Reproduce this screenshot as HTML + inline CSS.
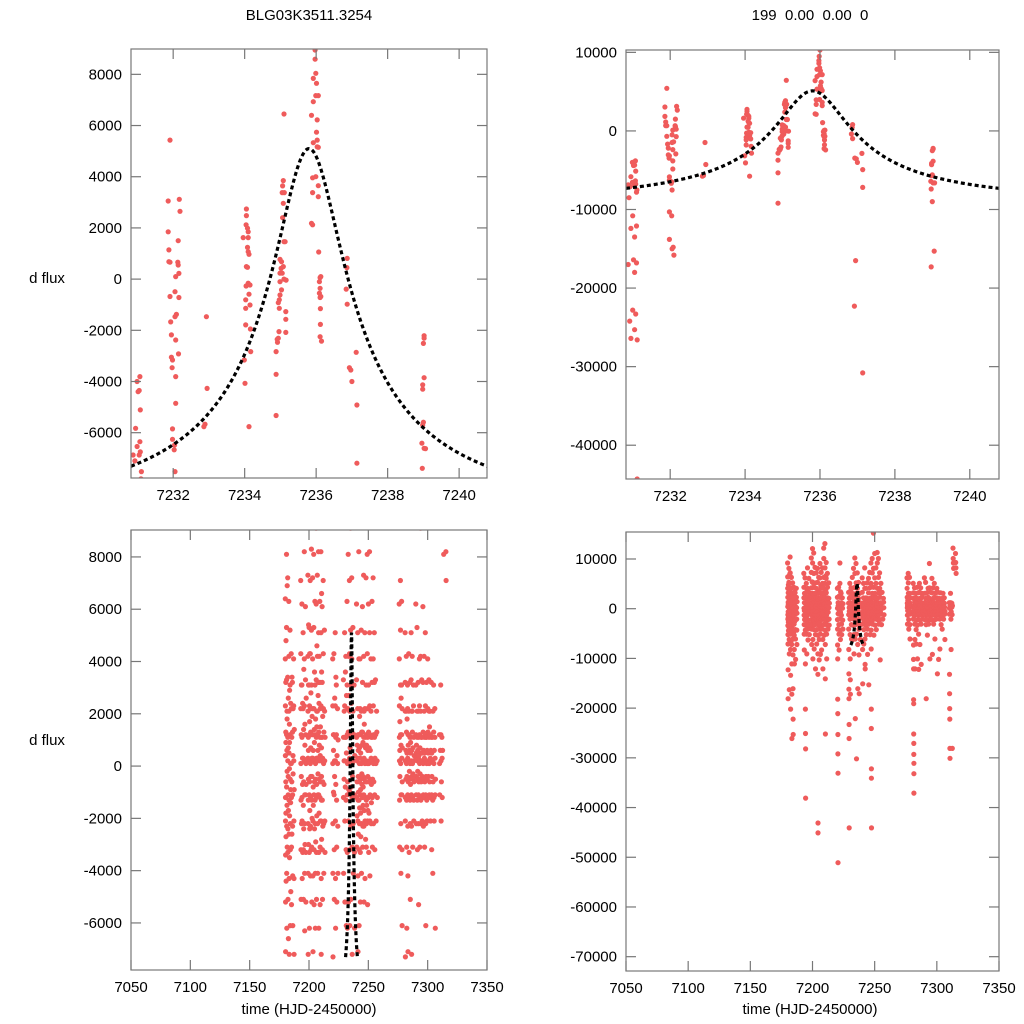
<!DOCTYPE html>
<html><head><meta charset="utf-8"><style>
html,body{margin:0;padding:0;background:#fff;overflow:hidden;}
svg{display:block;font-family:"Liberation Sans",Arial,sans-serif;}
</style></head><body>
<svg id="chart" width="1024" height="1024" viewBox="0 0 1024 1024">
<text x="309" y="20" text-anchor="middle" font-size="15">BLG03K3511.3254</text>
<text x="810" y="20" text-anchor="middle" font-size="15" xml:space="preserve">199  0.00  0.00  0</text>
<text x="47" y="283" text-anchor="middle" font-size="15">d flux</text>
<text x="47" y="745" text-anchor="middle" font-size="15">d flux</text>
<text x="309" y="1014" text-anchor="middle" font-size="15">time (HJD-2450000)</text>
<text x="810" y="1014" text-anchor="middle" font-size="15">time (HJD-2450000)</text>
</svg>
<script>
// ---- zoomed (peak) data: time and flux ----
const peakTime = [
7230.88,7230.95,7230.99,7231.02,7231.05,7231.07,7231.08,7231.07,7231.05,7231.08,7230.99,7231.11,
7230.9,7230.95,7231.0,7231.05,7231.1,7230.88,7231.02,7231.1,7231.05,7230.92,7231.0,7231.08,7230.95,7231.05,7231.12,7231.12,7231.1,7230.93,
7231.91,7231.86,7231.86,7231.88,7231.88,7231.91,7231.91,7231.93,7231.95,7231.95,7231.98,7231.97,7231.98,7231.98,7232.04,7232.05,7232.03,7232.05,7232.07,7232.07,7232.07,7232.07,7232.09,7232.05,7232.14,7232.13,7232.14,7232.16,7232.16,7232.17,7232.19,7232.15,
7231.98,7232.04,7231.98,7232.08,7232.05,7232.1,
7232.93,7232.95,7232.86,7232.89,
7234.05,7234.05,7234.04,7234.08,7234.10,7233.96,7234.10,7234.08,7234.10,7234.12,7234.05,7234.08,7234.04,7234.10,7234.15,7234.12,7234.03,7234.15,7234.03,7234.16,7234.03,7234.17,7233.99,7234.01,7234.12,
7235.10,7235.08,7235.06,7235.05,7235.11,7235.08,7235.06,7235.10,7235.13,7234.99,7235.03,7235.02,7234.99,7235.05,7235.08,7234.99,7235.10,7235.16,7235.03,7234.99,7234.97,7234.94,7234.97,7235.15,7235.15,7235.15,7234.96,7234.91,7234.92,7234.88,7234.88,7234.88,7234.94,7234.88,
7235.97,7235.97,7235.99,7235.92,7236.01,7235.99,7236.06,7235.92,7235.87,7236.03,7236.01,7236.03,7235.92,7236.03,7236.06,7235.90,7235.99,7236.06,7235.90,7236.06,7235.87,7235.90,7236.07,7236.11,7236.13,7236.09,7236.11,7236.09,7236.11,7236.13,7236.12,7236.12,7236.11,7236.15,7236.0,7235.98,
7236.87,7236.86,7236.84,7236.87,7237.12,7236.93,7236.97,7237.0,7237.14,7237.14,7236.95,7236.92,7237.14,
7239.02,7239.02,7239.0,7239.02,7238.98,7238.98,7239.0,7238.96,7239.02,7239.06,7238.97,7238.97,7239.05,7239.0,7238.98
];
const peakFlux = [
-6870,-5830,-4000,-4400,-4350,-3810,-5110,-6350,-6870,-6750,-6540,-7520,
-8500,-12400,-10800,-13500,-12100,-17000,-16400,-16800,-18000,-24200,-22800,-23300,-26400,-25300,-26600,-44300,-7800,-7100,
5430,3050,1850,1140,680,660,-680,-1670,-2180,-3050,-3160,-3460,-5850,-6260,-6480,-7520,-6670,-490,100,-3810,-2380,-4850,-1380,-1470,1500,660,550,225,-720,3120,2650,-2920,
-10300,-10800,-13800,-14800,-15000,-15800,
-1470,-4270,-5760,-5670,
2740,2480,2120,1990,1850,1620,1620,1240,1070,970,490,460,-270,-160,-230,-590,-810,-1010,-1140,-1950,-1790,-2830,-3160,-4070,-5760,
6450,3850,3640,3380,3380,2960,2400,1460,1460,770,680,420,230,230,490,-100,0,-40,-420,-620,-810,-920,-1140,-1270,-1570,-2080,-2050,-2350,-2470,-2830,-3720,-5330,-2310,-9200,
8950,8590,8040,7840,7650,7170,7170,6930,6400,6220,5740,5430,5330,5170,5150,3960,4000,3650,3380,3220,2180,2120,1060,60,100,-100,-360,-550,-720,-680,-1150,-1770,-2250,-2420,10300,9500,
810,450,-390,-980,-2860,-3460,-3550,-4000,-4920,-7190,-16500,-22300,-30800,
-2210,-2310,-2510,-3850,-4130,-4300,-5590,-6410,-6610,-6620,-7390,-17300,-15300,-9000,-5700
];

// ---- full season data: night (HJD-2450000) and flux values in thousands ----
const seasonNights = [7180,7181,7182,7183,7184,7185,7186,7187,7193,7194,7195,7196,7197,7199,7200,7201,7202,7203,7204,7205,7206,7207,7208,7209,7210,7211,7212,7213,7220,7221,7222,7223,7224,7229,7230,7231,7232,7233,7234,7235,7236,7237,7238,7240,7241,7242,7243,7244,7245,7246,7247,7248,7249,7250,7251,7252,7253,7254,7255,7256,7257,7276,7277,7278,7281,7282,7283,7284,7285,7286,7287,7288,7290,7291,7292,7293,7294,7295,7296,7297,7298,7299,7300,7301,7302,7303,7304,7305,7306,7310,7311,7312,7313,7315];
const seasonFluxK = [
[9.2,6.4,4.1,2.3,0.4,-1.2,-2.1,-3.4,-5.2,-7.1,-12.3,-18.1,1.3,-0.6,3.2,-1.8,0.9,-2.7,4.8,-4.4],
[8.1,5.3,3.3,1.2,-0.8,-2.3,-4.1,-6.2,-9.1,-16.3,0.6,2.1,-1.5,-0.2,1.8,-3.1,6.9],
[10.4,7.2,3.4,1.1,0.2,-2.4,-3.3,-5.1,-8.2,-13.4,-20.2,-1.1,-0.4,0.7,2.6,-1.7,-6.6],
[6.3,4.2,2.1,0.5,-1.3,-2.6,-4.3,-7.2,-11.1,-17.2,-26.1,1.6,-0.1,0.9,-3.5,2.9,-1.9],
[5.2,3.1,1.2,-0.5,-2.2,-3.2,-6.1,-9.3,-16.1,-22.2,-25.3,0.1,-1.4,2.4,-0.9,-4.8],
[4.3,2.2,0.1,-1.2,-3.1,-5.3,-8.2,-11.1,1.1,-0.6,-2.6,3.4],
[3.2,1.3,-1.1,-2.3,-4.2,-6.1,-10.2,0.4,-0.3,2.2],
[4.1,2.3,0.2,-2.1,-4.3,-7.2,-0.9,1.4],
[7.1,4.3,2.2,0.1,-1.3,-3.2,-5.1,-8.3,1.2,-0.4,3.1,-2.2],
[6.2,3.1,1.1,-1.2,-2.1,-4.3,-11.1,-20.2,-25.1,-28.2,-38.1,0.3,-0.7,2.4,-3.3],
[5.1,2.2,0.3,-1.5,-3.2,-5.1,-9.1,1.4,-0.6,-2.4,3.7],
[8.2,4.1,2.3,0.2,-2.2,-4.1,-6.3,-1.1,0.8,1.6,-3.0],
[6.1,3.3,1.2,-1.1,-3.3,-5.2,0.1,-0.7,2.6],
[10.2,7.3,4.2,2.1,0.3,-2.2,-4.1,-7.2,1.1,-1.3,0.6,-0.5,3.1,-3.0,5.4],
[12.1,9.2,5.3,3.1,1.2,-1.1,-3.3,-6.2,-10.1,0.2,2.3,-0.6,1.7,-2.4,4.3,-1.7],
[11.2,7.1,4.3,2.2,0.1,-2.3,-4.2,-8.1,1.3,-1.2,0.7,-0.4,2.8,-3.2],
[8.3,5.2,3.1,1.2,-1.3,-3.1,-5.2,-12.1,0.3,-0.4,1.9,-2.0],
[7.2,4.1,2.2,0.3,-2.1,-4.2,-7.1,1.2,-0.8,0.6,-1.5],
[8.1,5.3,2.2,0.2,-1.1,-3.2,-5.3,-9.1,-13.2,-43.1,-45.1,1.4,-0.6,0.9,-2.4,3.6],
[6.3,3.1,1.2,-1.3,-2.2,-4.1,-6.2,-10.3,0.1,-0.5,1.8,-2.9],
[9.1,6.2,3.3,1.1,-1.2,-3.3,-5.1,-9.2,0.3,2.1,-0.7,1.5,-1.9,4.6],
[7.3,4.2,2.1,0.3,-2.2,-4.1,-8.3,1.2,-1.1,0.6,-0.3,2.7],
[8.2,5.1,3.2,1.3,-1.1,-3.3,-6.2,-12.1,0.2,2.4,-0.5,-1.8,4.2,0.8],
[12.2,10.1,6.3,3.2,1.1,-1.2,-3.1,-5.3,0.4,-0.6,2.2,-2.1,1.5],
[13.1,8.2,5.1,2.3,0.2,-2.1,-4.3,-7.2,-14.1,-25.2,1.1,-1.3,0.7,-0.4,3.6,-2.8,6.6],
[9.3,6.1,3.2,1.1,-1.3,-3.2,-5.1,-10.1,0.3,-0.6,1.9,-2.3],
[7.1,4.3,2.2,0.1,-2.2,-4.1,1.3,-0.7],
[5.2,2.1,0.2,-2.1,-3.3,1.1],
[4.1,2.3,0.1,-2.2,-4.1,-7.3,-10.1,-18.2,-21.1,-25.3,-29.2,-33.1,-51.1,1.2,-1.0,0.6],
[4.3,1.2,-1.1,-3.2,-5.1,-8.3,0.2,-0.4,2.6],
[9.2,5.1,2.3,0.2,-2.1,-4.3,-6.2,1.1,-0.7,3.4],
[3.1,1.2,-1.3,-3.1,-5.2,0.4],
[2.2,0.1,-2.3,-4.1,1.0],
[3.3,1.1,-1.2,-4.1,-8.2,-13.1,-16.2,-18.1,-23.3,-26.1,-44.1,0.2,-0.5,2.1],
[5.1,2.3,0.2,-2.1,-5.2,-10.1,-14.3,-17.2,1.1,-0.8,3.6],
[4.2,1.1,-1.3,-3.2,-6.1,0.5,2.7],
[6.3,3.1,1.2,-1.1,-3.3,-6.2,0.1,-0.6,2.2],
[8.1,4.2,1.3,-2.1,-5.2,-9.1,0.2,-0.9,2.7],
[10.2,7.1,4.3,2.1,0.3,-3.2,-6.1,-22.1,1.2,-1.0,0.7],
[9.1,5.2,3.1,0.2,-2.3,-5.1,-30.2,1.1,-0.8,2.4],
[7.2,4.1,1.3,-1.2,-3.1,-7.2,-16.1,0.1,-0.4],
[5.3,2.1,0.2,-2.2,-4.1,-9.3,-17.1,1.2],
[3.1,1.2,-1.1,-3.3,-6.2,0.4],
[6.2,3.3,1.1,-1.2,-3.1,-8.2,-15.1,0.2,-0.6,-1.9,0.8],
[5.1,2.2,0.3,-2.1,-4.2,-7.1,-1.3,1.2,-0.4,-2.6,0.6,-1.0],
[8.2,4.1,1.2,-1.3,-3.2,-6.1,-11.2,-12.1,0.1,-2.2,-0.6,0.7,-1.6,1.9],
[4.1,2.2,0.3,-1.1,-3.3,-5.2,1.2,-0.5,-0.9,-1.8,0.5,-2.7],
[5.2,2.1,0.1,-2.2,-4.1,-9.2,-1.1,1.3,-0.3,-1.6,0.8,-0.7],
[6.1,3.2,1.3,-1.2,-3.1,-15.3,0.2,-2.3,-0.4,0.9,-1.5,-0.8],
[7.3,4.2,1.1,-1.1,-2.3,-5.2,0.3,2.1,-0.5,-1.7,1.6],
[9.2,5.1,2.2,0.1,-2.1,-4.3,-8.1,-20.2,-24.1,-32.2,-34.1,-44.1,1.1,-1.2,-0.6,0.7,-2.8],
[10.1,7.2,3.1,1.2,-1.3,-3.1,0.2,-2.2,-0.6,0.8,-1.5],
[15.2,8.1,4.3,2.2,0.1,-2.1,-5.3,1.1,-1.2,-0.4,0.6,-1.7],
[11.1,6.2,3.1,1.3,-1.2,-3.3,0.1,2.2,-0.6,-1.8,0.7],
[8.2,5.1,2.3,0.2,-2.1,-4.2,1.2,-1.1,-0.5,0.6],
[11.3,9.2,4.1,2.1,0.3,-2.2,1.1,-0.7,-1.4],
[10.1,6.3,3.2,1.1,-1.2,-3.1,0.2,-0.5],
[7.2,4.1,2.3,0.1,-2.2,-10.3,1.2,-0.6],
[5.1,3.2,1.1,-1.1,-3.2,0.3],
[3.3,1.2,0.1,-2.1],
[2.1,1.3,0.2,-1.2],
[6.2,4.1,2.3,1.1,0.2,-1.3,-3.1,0.6,-0.4,1.7],
[7.1,5.2,3.1,1.2,0.1,-2.2,-4.1,-1.1,0.8,2.6],
[6.3,3.1,1.2,0.3,-1.1,-3.2,-6.1,2.2,-0.6,0.7],
[5.1,3.2,2.1,0.2,-1.2,-2.1,-7.3,-10.2,-12.1,-18.3,-19.1,-25.2,-27.1,-29.3,-31.1,-33.2,-37.1,0.6,-0.5],
[4.2,2.1,1.3,0.1,-1.3,-3.1,-6.2,-12.1,0.5,-0.4,1.8],
[3.1,2.2,0.3,-1.1,-2.3,-4.2,-7.1,1.2,-0.6,0.8],
[4.3,2.1,1.2,0.2,-1.2,-3.3,-10.1,-0.5,0.6,-0.2],
[3.2,1.1,0.1,-1.3,-2.2,-5.1,-12.2,0.5,-0.7,0.9],
[5.1,3.3,1.1,0.2,-1.1,-2.3,-7.2,2.1,-0.4,0.6],
[4.2,2.1,1.3,0.1,-1.2,-3.1,-11.2,-0.5,0.7,-0.3],
[3.1,2.3,0.2,-1.3,-2.1,1.1,-0.6,0.4],
[6.2,3.1,1.2,0.3,-1.1,-2.2,0.5,-0.4,0.8],
[5.3,2.1,1.1,0.2,-1.3,-3.2,-18.1,-0.5,0.6,-0.2],
[3.2,2.1,0.3,-1.1,-2.2,-5.3,1.1,-0.6,0.4],
[4.1,2.3,1.2,0.1,-1.2,-3.1,-0.5,0.7,-0.3],
[9.1,4.2,2.1,0.2,-1.3,-2.2,-10.1,1.1,-0.6,0.5],
[3.3,1.1,0.2,-1.2,-2.1,0.5,-0.4],
[6.1,3.2,1.3,0.1,-1.1,-2.3,-9.2,-0.5,0.6],
[4.2,2.1,1.1,0.3,-1.2,-3.1,0.5,-0.6],
[5.1,2.3,1.2,0.2,-1.1,-2.2,-6.1,1.1,-0.4],
[3.2,1.1,0.1,-1.3,-2.1,-0.5,0.6],
[4.1,2.2,1.3,0.2,-1.2,-13.1,0.5,-0.4],
[3.3,2.1,1.1,0.1,-1.1,-10.2,1.5,-0.6],
[2.1,1.2,0.3,-1.2,-2.1,-8.1,0.6],
[3.2,1.1,0.2,-1.1,-3.2,0.5,-0.4],
[1.1,0.2,-1.3,-4.1,2.1,-0.6],
[3.1,1.3,0.1,-1.2,-2.1,0.6],
[2.2,1.1,0.3,-1.1,-6.2,-0.5],
[1.2,0.1,-1.1,-13.2,-17.1,-20.1,-22.2,-28.1,-30.1,0.6],
[3.1,1.2,0.2,-2.1,-8.2,-0.6],
[1.1,0.3,-1.2,-28.1,0.6],
[12.2,10.1,9.2,8.1],
[11.1,9.3,8.2,7.1],
[10.2,9.1,8.3,6.2],
[9.1,8.2,7.3],
[7.2,6.1]
];

// ---- microlensing model parameters ----
const modelT0 = [7235.8];
const modelTE = [10];
const modelU0 = [0.1];
const modelFs = [1574];
const modelFb = [-10700];

// ---- tick labels ----
const ticksPeakX = [7232,7234,7236,7238,7240];
const ticksPeakYLeft = [-6000,-4000,-2000,0,2000,4000,6000,8000];
const ticksPeakYRight = [-40000,-30000,-20000,-10000,0,10000];
const ticksSeasonX = [7050,7100,7150,7200,7250,7300,7350];
const ticksSeasonYLeft = [-6000,-4000,-2000,0,2000,4000,6000,8000];
const ticksSeasonYRight = [-70000,-60000,-50000,-40000,-30000,-20000,-10000,0,10000];

const NS='http://www.w3.org/2000/svg';
const svg=document.getElementById('chart');
function mk(tag,attrs,parent){const e=document.createElementNS(NS,tag);for(const k in attrs)e.setAttribute(k,attrs[k]);(parent||svg).appendChild(e);return e;}

function magnification(t){
  const tau=(t-modelT0[0])/modelTE[0];
  const u=Math.sqrt(modelU0[0]*modelU0[0]+tau*tau);
  return (u*u+2)/(u*Math.sqrt(u*u+4));
}
function modelFlux(t){return modelFb[0]+modelFs[0]*magnification(t);}

const seasonT=[],seasonF=[];
seasonNights.forEach((n,i)=>{const vals=seasonFluxK[i];vals.forEach((v,j)=>{seasonT.push(n+0.7*j/vals.length);seasonF.push(v*1000);});});

const panels=[
 {id:'tl',x0:131,x1:487,y0:49,y1:478,xmin:7230.82,xmax:7240.78,ymin:-7770,ymax:8990,xt:ticksPeakX,yt:ticksPeakYLeft,t:peakTime,f:peakFlux},
 {id:'tr',x0:626,x1:999,y0:50,y1:479,xmin:7230.82,xmax:7240.78,ymin:-44300,ymax:10300,xt:ticksPeakX,yt:ticksPeakYRight,t:peakTime,f:peakFlux},
 {id:'bl',x0:131,x1:487,y0:530,y1:970,xmin:7050,xmax:7350,ymin:-7800,ymax:9030,xt:ticksSeasonX,yt:ticksSeasonYLeft,t:seasonT,f:seasonF},
 {id:'br',x0:626,x1:999,y0:532,y1:971,xmin:7050,xmax:7350,ymin:-72880,ymax:15430,xt:ticksSeasonX,yt:ticksSeasonYRight,t:seasonT,f:seasonF}
];
const names={tl:'peak-zoom-panel',tr:'peak-full-range-panel',bl:'season-zoom-panel',br:'season-full-range-panel'};

panels.forEach(p=>{
  const sx=v=>p.x0+(v-p.xmin)/(p.xmax-p.xmin)*(p.x1-p.x0);
  const sy=v=>p.y1-(v-p.ymin)/(p.ymax-p.ymin)*(p.y1-p.y0);
  const g=mk('g',{});
  
  
  const cp=mk('clipPath',{id:'clip-'+p.id},g);
  mk('rect',{x:p.x0,y:p.y0,width:p.x1-p.x0,height:p.y1-p.y0},cp);
  const pts=mk('g',{'clip-path':'url(#clip-'+p.id+')',fill:'#ef5b5b'},g);
  
  
  for(let i=0;i<p.t.length;i++){
    const c=mk('circle',{cx:sx(p.t[i]).toFixed(1),cy:sy(p.f[i]).toFixed(1),r:2.6},pts);
    
    
  }
  let d='';
  const a=7230.82,b=7240.78;
  for(let k=0;k<=300;k++){const t=a+(b-a)*k/300;d+=(k?'L':'M')+sx(t).toFixed(2)+','+sy(modelFlux(t)).toFixed(2);}
  const ln=mk('path',{d:d,fill:'none',stroke:'#000','stroke-width':3.2,'stroke-dasharray':'4,3','clip-path':'url(#clip-'+p.id+')'},g);
  
  
  const fr=mk('rect',{x:p.x0,y:p.y0,width:p.x1-p.x0,height:p.y1-p.y0,fill:'none',stroke:'#777','stroke-width':1.2},g);
  
  
  p.xt.forEach(v=>{
    const x=sx(v);
    mk('line',{x1:x,x2:x,y1:p.y1,y2:p.y1-10,stroke:'#777','stroke-width':1.2},g);
    mk('line',{x1:x,x2:x,y1:p.y0,y2:p.y0+10,stroke:'#777','stroke-width':1.2},g);
    const tx=mk('text',{x:x,y:p.y1+22,'text-anchor':'middle','font-size':15},g);
    tx.textContent=v;
    
    
  });
  p.yt.forEach(v=>{
    const y=sy(v);
    mk('line',{x1:p.x0,x2:p.x0+10,y1:y,y2:y,stroke:'#777','stroke-width':1.2},g);
    mk('line',{x1:p.x1,x2:p.x1-10,y1:y,y2:y,stroke:'#777','stroke-width':1.2},g);
    const ty=mk('text',{x:p.x0-9,y:y+5,'text-anchor':'end','font-size':15},g);
    ty.textContent=v;
    
    
  });
});
</script>
</body></html>
